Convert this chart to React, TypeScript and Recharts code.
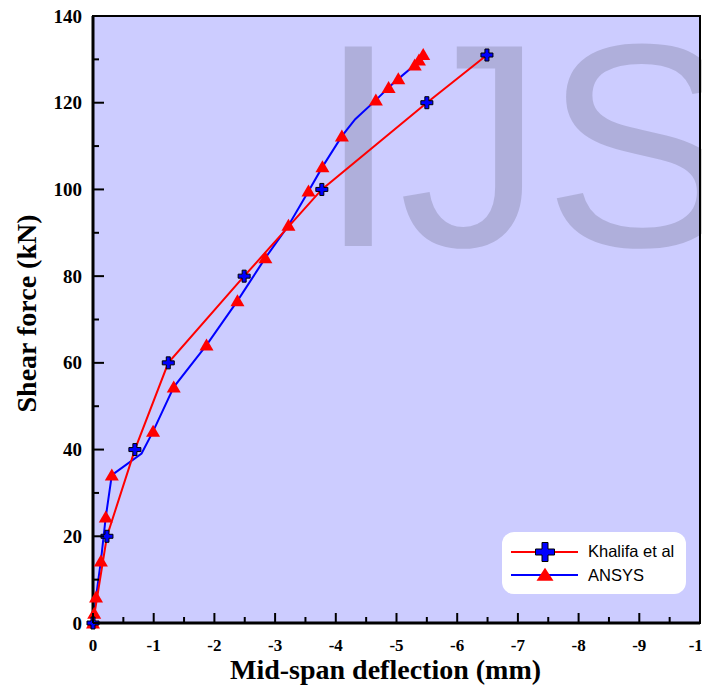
import React from 'react';
import {ComposedChart, Line, XAxis, YAxis, ReferenceArea, Legend, Label} from 'recharts';

// Khalifa et al. test (deflection mm, shear force kN)
const khalifaDeflection = [0, -0.23, -0.69, -1.24, -2.49, -3.77, -5.5, -6.49];
const khalifaForce = [0, 20, 40, 60, 80, 100, 120, 131];

// ANSYS model; vertices 6 and 16 have no marker
const ansysDeflection = [0, -0.02, -0.05, -0.13, -0.21, -0.31, -0.8, -0.99, -1.33, -1.87, -2.38, -2.84,
    -3.22, -3.55, -3.78, -4.1, -4.32, -4.66, -4.87, -5.03, -5.3, -5.37, -5.44];
const ansysForce = [0, 2.2, 6, 14.3, 24.4, 34.1, 39.1, 44.2, 54.4, 64.1, 74.3, 84.2,
    91.7, 99.6, 105.2, 112.3, 116.2, 120.6, 123.5, 125.5, 128.7, 129.8, 131.1];
const ansysUnmarked = [6, 16];

const xTicks = [0, -0.5, -1, -1.5, -2, -2.5, -3, -3.5, -4, -4.5, -5, -5.5, -6, -6.5, -7, -7.5, -8, -8.5, -9, -9.5, -10];
const yTicks = [0, 10, 20, 30, 40, 50, 60, 70, 80, 90, 100, 110, 120, 130, 140];

const khalifaData = khalifaDeflection.map((x, i) => ({x, y: khalifaForce[i]}));
const ansysData = ansysDeflection.map((x, i) => ({x, y: ansysForce[i], marked: !ansysUnmarked.includes(i)}));

const serif = '"Liberation Serif", "Times New Roman", serif';
const sans = '"Liberation Sans", Arial, sans-serif';

function plusPath(cx: number, cy: number, a: number, t: number) {
    return `M${cx - t},${cy - a}h${2 * t}v${a - t}h${a - t}v${2 * t}h${-(a - t)}v${a - t}h${-2 * t}v${-(a - t)}h${-(a - t)}v${-2 * t}h${a - t}z`;
}

function trianglePath(cx: number, cy: number, w: number, h: number) {
    return `M${cx},${cy - h * 0.55}L${cx + w / 2},${cy + h * 0.45}L${cx - w / 2},${cy + h * 0.45}Z`;
}

function PlusDot(props: any) {
    const {cx, cy, index} = props;
    return <path key={`p${index}`} d={plusPath(cx, cy, 6, 2)} fill="#0000ff" stroke="#000" strokeWidth={1}/>;
}

function TriangleDot(props: any) {
    const {cx, cy, index, payload} = props;
    if (!payload.marked) return <g key={`t${index}`}/>;
    return <path key={`t${index}`} d={trianglePath(cx, cy, 14, 12)} fill="#ff0000"/>;
}

function YTick({x, y, payload}: any) {
    const major = payload.value % 20 === 0;
    return (
        <g>
            <line x1={x} y1={y} x2={x + (major ? 11 : 6)} y2={y} stroke="#000" strokeWidth={2}/>
            {major && (
                <text x={x - 11} y={y + 6.5} textAnchor="end" fontFamily={serif} fontWeight="bold" fontSize={19} fill="#000">
                    {payload.value}
                </text>
            )}
        </g>
    );
}

function XTick({x, y, payload}: any) {
    const major = Number.isInteger(payload.value);
    return (
        <g>
            <line x1={x} y1={y} x2={x} y2={y - (major ? 10 : 6)} stroke="#000" strokeWidth={2}/>
            {major && (
                <text x={x} y={y + 28} textAnchor="middle" fontFamily={serif} fontWeight="bold" fontSize={17} fill="#000">
                    {payload.value}
                </text>
            )}
        </g>
    );
}

// plot background with the IJS watermark and the thin top/right frame
function PlotBackground({x, y, width, height}: any) {
    return (
        <g>
            <rect x={x} y={y} width={width} height={height} fill="#ccccff"/>
            <text x={x + 225} y={y + 230} fontFamily={sans} fontSize={290} fill="#000" fillOpacity={0.14}>IJS</text>
            <rect x={x} y={y} width={width} height={height} fill="none" stroke="#000" strokeWidth={2}/>
        </g>
    );
}

function LegendBox() {
    return (
        <svg width={184} height={62} style={{display: 'block'}}>
            <rect x={0} y={0} width={184} height={62} rx={12} fill="#fff"/>
            <line x1={9} x2={76} y1={20} y2={20} stroke="#ff0000" strokeWidth={2}/>
            <path d={plusPath(43, 20, 9.5, 3)} fill="#0000ff" stroke="#000" strokeWidth={1}/>
            <text x={86} y={25} fontFamily={sans} fontSize={16.5} fill="#000">Khalifa et al</text>
            <line x1={9} x2={76} y1={43} y2={43} stroke="#0000ff" strokeWidth={2}/>
            <path d={trianglePath(43, 43, 17, 13)} fill="#ff0000"/>
            <text x={86} y={49} fontFamily={sans} fontSize={16.5} fill="#000">ANSYS</text>
        </svg>
    );
}

export default function App() {
    return (
        <div style={{width: 702, height: 679}}>
            <ComposedChart width={702} height={679} margin={{top: 8, right: 10, bottom: 0, left: 0}}>
                <XAxis
                    dataKey="x"
                    type="number"
                    domain={[-10, 0]}
                    reversed
                    ticks={xTicks}
                    interval={0}
                    height={64}
                    tickSize={0}
                    tickMargin={0}
                    tickLine={false}
                    tick={<XTick/>}
                    axisLine={{stroke: '#000', strokeWidth: 3}}
                >
                    <Label
                        content={({viewBox}: any) => (
                            <text x={viewBox.x + viewBox.width / 2 - 11} y={viewBox.y + 56} textAnchor="middle"
                                  fontFamily={serif} fontWeight="bold" fontSize={28} fill="#000">
                                Mid-span deflection (mm)
                            </text>
                        )}
                    />
                </XAxis>
                <YAxis
                    dataKey="y"
                    type="number"
                    domain={[0, 140]}
                    ticks={yTicks}
                    interval={0}
                    width={85}
                    tickSize={0}
                    tickMargin={0}
                    tickLine={false}
                    tick={<YTick/>}
                    axisLine={{stroke: '#000', strokeWidth: 3}}
                >
                    <Label
                        content={({viewBox}: any) => {
                            const cx = viewBox.x + 28;
                            const cy = viewBox.y + viewBox.height / 2 - 6;
                            return (
                                <text x={cx} y={cy} transform={`rotate(-90, ${cx}, ${cy})`} textAnchor="middle"
                                      fontFamily={serif} fontWeight="bold" fontSize={28} fill="#000">
                                    Shear force (kN)
                                </text>
                            );
                        }}
                    />
                </YAxis>
                <ReferenceArea x1={-10} x2={0} y1={0} y2={140} shape={<PlotBackground/>}/>
                <Line
                    data={ansysData}
                    dataKey="y"
                    name="ANSYS"
                    type="linear"
                    stroke="#0000ff"
                    strokeWidth={2}
                    dot={<TriangleDot/>}
                    activeDot={false}
                    isAnimationActive={false}
                />
                <Line
                    data={khalifaData}
                    dataKey="y"
                    name="Khalifa et al"
                    type="linear"
                    stroke="#ff0000"
                    strokeWidth={2}
                    dot={<PlusDot/>}
                    activeDot={false}
                    isAnimationActive={false}
                />
                <Legend
                    layout="horizontal"
                    verticalAlign="middle"
                    content={() => <LegendBox/>}
                    wrapperStyle={{left: 494, top: 524, width: 184, height: 62}}
                />
            </ComposedChart>
        </div>
    );
}
